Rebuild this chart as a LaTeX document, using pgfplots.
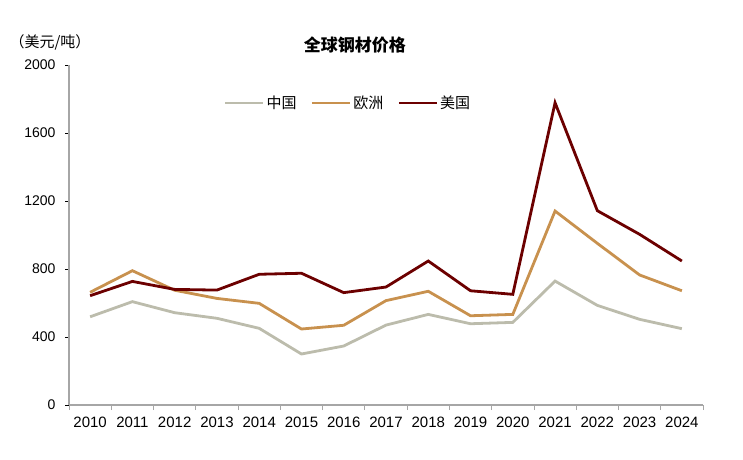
\documentclass[border=0pt]{standalone}
\usepackage{fontspec}
\setmainfont{Liberation Sans}
\newfontfamily\cjk{Noto Sans CJK SC}
\usepackage{pgfplots}
\pgfplotsset{compat=1.18}

\definecolor{cnGrey}{RGB}{188,188,172}
\definecolor{euOrange}{RGB}{200,145,78}
\definecolor{usRed}{RGB}{108,0,0}
\definecolor{axGrey}{RGB}{166,166,166}

\begin{document}
\begin{tikzpicture}
\path[use as bounding box] (-69pt,-54pt) rectangle (674pt,405pt);
\begin{axis}[
    at={(0,0)}, anchor=south west,
    scale only axis,
    width=634pt, height=340pt,
    xmin=-0.5, xmax=14.5,
    ymin=0, ymax=2000,
    xtick={0,...,14},
    xticklabels={2010,2011,2012,2013,2014,2015,2016,2017,2018,2019,2020,2021,2022,2023,2024},
    minor xtick={-0.5,0.5,...,14.5},
    ytick={0,400,800,1200,1600,2000},
    axis x line*=bottom, axis y line*=left,
    axis line style={draw=axGrey, line width=1.2pt, -},
    tick align=outside,
    xtick style={draw=none},
    minor x tick style={draw=axGrey, line width=0.8pt},
    minor tick length=5pt,
    ytick style={draw=black, line width=0.6pt},
    major tick length=4pt,
    yticklabel style={font=\fontsize{14}{16}\selectfont, xshift=-6pt},
    xticklabel style={font=\fontsize{15}{17}\selectfont, yshift=-4pt},
    /pgf/number format/assume math mode=true,
    /pgf/number format/1000 sep={},
    legend style={at={(0.44,0.888)}, anchor=center, draw=none, fill=none,
        font=\cjk\fontsize{15}{17}\selectfont,
        /tikz/every even column/.append style={column sep=12pt}},
    legend columns=3,
    legend image code/.code={\draw[#1] (0pt,0pt) -- (38pt,0pt);},
    clip=false,
]
\addplot[cnGrey, line width=2.8pt] coordinates {
(0,519) (1,608) (2,543) (3,510) (4,451) (5,300) (6,347) (7,470)
(8,533) (9,478) (10,486) (11,729) (12,586) (13,504) (14,449)};
\addlegendentry{中国}
\addplot[euOrange, line width=2.8pt] coordinates {
(0,663) (1,790) (2,675) (3,627) (4,598) (5,447) (6,469) (7,614)
(8,669) (9,525) (10,533) (11,1141) (12,951) (13,765) (14,672)};
\addlegendentry{欧洲}
\addplot[usRed, line width=2.8pt] coordinates {
(0,643) (1,727) (2,680) (3,676) (4,769) (5,775) (6,661) (7,694)
(8,847) (9,672) (10,651) (11,1778) (12,1143) (13,1004) (14,847)};
\addlegendentry{美国}
\node[font=\cjk\bfseries\fontsize{17}{19}\selectfont] at ([yshift=20pt]rel axis cs:0.451,1) {全球钢材价格};
\node[font=\cjk\fontsize{15}{17}\selectfont] at ([xshift=-19pt,yshift=23pt]rel axis cs:0,1) {（美元/吨）};
\end{axis}
\end{tikzpicture}
\end{document}
